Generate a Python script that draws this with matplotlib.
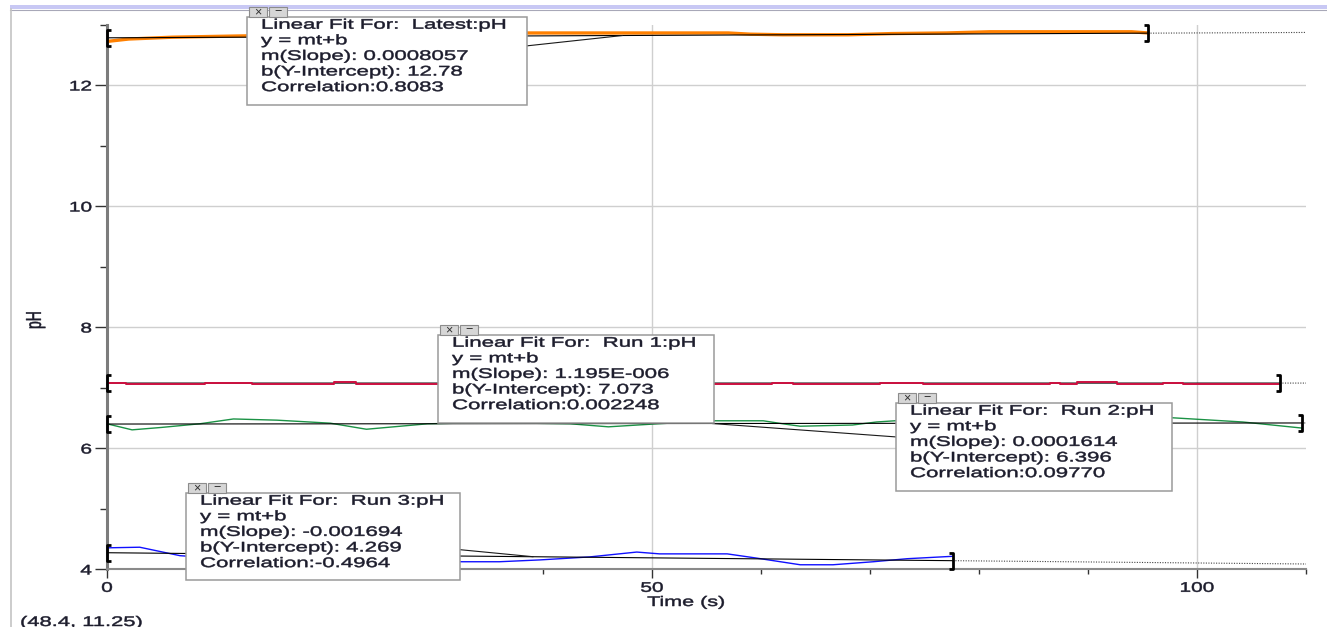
import numpy as np
import matplotlib
matplotlib.use("Agg")
import matplotlib.pyplot as plt
from matplotlib import patheffects
from matplotlib.markers import MarkerStyle
from matplotlib.patches import Rectangle
from matplotlib.path import Path
from matplotlib.transforms import Affine2D, IdentityTransform

W, H = 1327, 627

# pH readings (time in s)
latest_t = [0, 2, 6, 12, 20, 30, 38, 45, 57, 59, 62, 68, 72, 77, 81, 88, 94, 95.5]
latest_ph = [12.72, 12.76, 12.79, 12.81, 12.83, 12.85, 12.86, 12.86, 12.86, 12.84,
             12.83, 12.83, 12.85, 12.86, 12.88, 12.88, 12.88, 12.86]

run1_t = [0, 1.7, 9.0, 13.3, 20.8, 22.8, 61.0, 62.9, 70.9, 74.9, 86.5, 87.4, 89.0,
          92.7, 96.9, 98.7, 107.6]
run1_ph = [7.073, 7.062, 7.073, 7.062, 7.085, 7.062, 7.073, 7.062, 7.073, 7.062,
           7.073, 7.062, 7.085, 7.062, 7.073, 7.062, 7.062]

run2_t = [0, 2.3, 5, 8.5, 11.6, 15.6, 20.5, 23.8, 29.4, 35, 42.5, 46, 50.5, 55.8,
          60.2, 62, 63.6, 68.4, 70.6, 72.3, 80, 90, 97.7, 104.2, 109.6]
run2_ph = [6.40, 6.30, 6.34, 6.40, 6.48, 6.46, 6.41, 6.31, 6.40, 6.42, 6.40, 6.35,
           6.40, 6.45, 6.45, 6.40, 6.36, 6.38, 6.43, 6.45, 6.47, 6.48, 6.50, 6.43, 6.33]

run3_t = [0, 3, 6.7, 10, 15, 20, 26, 32.6, 36, 39.7, 44.3, 48.6, 50.7, 56.9, 59.6,
          63.6, 66.6, 70.3, 73.4, 77.6]
run3_ph = [4.35, 4.36, 4.22, 4.18, 4.14, 4.15, 4.14, 4.12, 4.12, 4.15, 4.20, 4.28,
           4.25, 4.25, 4.18, 4.07, 4.07, 4.12, 4.17, 4.21]

# linear fit results, one entry per run
run_names = ["Latest", "Run 1", "Run 2", "Run 3"]
fit_slopes = [0.0008057, 1.195e-06, 0.0001614, -0.001694]
fit_intercepts = [12.78, 7.073, 6.396, 4.269]
fit_correlations = [0.8083, 0.002248, 0.09770, -0.4964]
fit_starts = [0.0, 0.0, 0.0, 0.0]
fit_ends = [95.5, 107.6, 109.6, 77.6]
# point on each fit line that the info box points at
leader_t = [47.3, 45.0, 55.5, 39.1]

run_colors = ["#ff8000", "#cc1040", "#1b9245", "#1010ff"]
run_widths = [2.4, 1.4, 1.0, 1.0]
# data drawn above (True) or below its fit line
run_on_top = [False, True, False, False]

# info boxes: left, top, width, height in canvas pixels (top-left origin)
box_layout = [(247, 17, 280, 88), (438, 335, 276, 88),
              (896, 403, 276, 88), (186, 493, 274, 87)]

TEXT_COLOR = "#1c1c2c"
PIX = IdentityTransform()


class Stretch(patheffects.AbstractPathEffect):
    """Widen glyph outlines while keeping one edge of the text in place."""

    def __init__(self, sx=1.0, sy=1.0, anchor="left", weight=0.35):
        super().__init__()
        self.sx, self.sy, self.anchor, self.weight = sx, sy, anchor, weight

    def draw_path(self, renderer, gc, tpath, affine, rgbFace=None):
        if len(tpath.vertices) == 0:
            return
        ext = tpath.get_extents()
        ox = {"left": 0.0, "center": (ext.x0 + ext.x1) / 2, "right": ext.x1}[self.anchor]
        oy = (ext.y0 + ext.y1) / 2
        widen = Affine2D().translate(-ox, -oy).scale(self.sx, self.sy).translate(ox, oy)
        gc0 = renderer.new_gc()
        gc0.copy_properties(gc)
        gc0.set_linewidth(self.weight)
        gc0.set_foreground(rgbFace)
        renderer.draw_path(gc0, tpath, widen + affine, rgbFace)
        gc0.restore()


def fmt_value(v):
    """4 significant digits, switching to E-notation for tiny values."""
    if v != 0 and abs(v) < 1e-4:
        mant, exp = f"{v:.3e}".split("e")
        return f"{mant}E{int(exp):+04d}".replace("+", "")
    digits = 3 - int(np.floor(np.log10(abs(v))))
    return f"{v:.{max(digits, 0)}f}"


def canvas(x, y):
    # pixel position measured from the top-left corner -> display coords
    return x, H - y


def draw_fit_box(fig, left, top, width, height, lines):
    x0, y0 = canvas(left, top + height)
    fig.add_artist(Rectangle((x0, y0), width, height, transform=PIX,
                             facecolor="white", edgecolor="#9a9a9a", lw=1.1, zorder=5))
    # close / minimise buttons on the top edge
    for i, sym in enumerate(["\u00d7", "\u2212"]):
        bx, by = canvas(left + 2 + i * 20, top)
        fig.add_artist(Rectangle((bx, by), 18, 10, transform=PIX, facecolor="#d6d6d6",
                                 edgecolor="#8c8c8c", lw=0.8, zorder=5))
        fig.text(bx + 9, by + 5, sym, transform=PIX, ha="center", va="center",
                 fontsize=9, color="#303030", zorder=6)
    for i, line in enumerate(lines):
        tx, ty = canvas(left + 14, top + 11.7 + 15.6 * i)
        fig.text(tx, ty, line, transform=PIX, ha="left", va="baseline", fontsize=10,
                 color=TEXT_COLOR, zorder=6, path_effects=[Stretch(1.6)])


def main():
    plt.rcParams["font.family"] = ["Liberation Sans", "DejaVu Sans"]

    fig = plt.figure(figsize=(W / 100, H / 100), dpi=100)
    fig.patch.set_facecolor("white")

    # window chrome: title strip and left frame
    fig.add_artist(Rectangle(canvas(10, 9), W - 10, 4, transform=PIX,
                             facecolor="#c8c8f4", edgecolor="none", zorder=0))
    fig.add_artist(plt.Line2D([10, W], [H - 9.5, H - 9.5], transform=PIX,
                              color="#a8a8b8", lw=0.8, zorder=0))
    fig.add_artist(plt.Line2D([11, 11], [0, H - 9], transform=PIX,
                              color="#c4c4c4", lw=1.2, zorder=0))

    ax = fig.add_axes([107 / W, (H - 569) / H, 1199 / W, 544.5 / H])
    ax.set_xlim(0, 110)
    ax.set_ylim(4, 13)
    ax.set_facecolor("white")

    for side in ["top", "right"]:
        ax.spines[side].set_visible(False)
    ax.spines["left"].set_color("#7c7c7c")
    ax.spines["left"].set_linewidth(2.2)
    ax.spines["bottom"].set_color("#8a8a8a")
    ax.spines["bottom"].set_linewidth(1.5)

    ax.set_xticks([0, 50, 100])
    ax.set_xticks(np.arange(10, 111, 10), minor=True)
    ax.set_yticks([4, 6, 8, 10, 12])
    ax.set_yticks([5, 7, 9, 11, 13], minor=True)
    ax.tick_params(axis="x", which="major", length=6.5, width=1, color="#333333",
                   pad=2, labelsize=10, labelcolor=TEXT_COLOR)
    ax.tick_params(axis="x", which="minor", length=3.6, width=1, color="#333333")
    ax.tick_params(axis="y", which="major", length=9, width=1, color="#333333",
                   pad=2, labelsize=10, labelcolor=TEXT_COLOR)
    ax.tick_params(axis="y", which="minor", length=5, width=1, color="#333333")
    for lbl in ax.get_xticklabels():
        lbl.set_path_effects([Stretch(1.5, anchor="center")])
    for lbl in ax.get_yticklabels():
        lbl.set_path_effects([Stretch(1.5, anchor="right")])

    ax.grid(True, which="major", color="#cfcfcf", lw=1.0, zorder=0)
    ax.set_axisbelow(True)

    ax.set_xlabel("Time (s)", fontsize=10, color=TEXT_COLOR, va="center",
                  path_effects=[Stretch(1.55, anchor="center")])
    ax.xaxis.set_label_coords(0.483, -0.0606)
    ax.set_ylabel("pH", fontsize=10, color=TEXT_COLOR, va="center",
                  path_effects=[Stretch(sy=1.55, anchor="center")])
    ax.yaxis.set_label_coords(-0.060, 0.457)

    # range brackets for the fits
    open_br = MarkerStyle(Path([(0.45, 1), (0, 1), (0, -1), (0.45, -1)]),
                          joinstyle="miter", capstyle="butt")
    close_br = MarkerStyle(Path([(-0.45, 1), (0, 1), (0, -1), (-0.45, -1)]),
                           joinstyle="miter", capstyle="butt")

    series = [(latest_t, latest_ph, "default"), (run1_t, run1_ph, "steps-post"),
              (run2_t, run2_ph, "default"), (run3_t, run3_ph, "default")]
    xmax = ax.get_xlim()[1]

    for i, (t, ph, style) in enumerate(series):
        ax.plot(t, ph, color=run_colors[i], lw=run_widths[i], drawstyle=style,
                solid_joinstyle="round", zorder=5 if run_on_top[i] else 3)

        m, b = fit_slopes[i], fit_intercepts[i]
        t0, t1 = fit_starts[i], fit_ends[i]
        ax.plot([t0, t1], [m * t0 + b, m * t1 + b], color="black", lw=0.8, zorder=4)
        ax.plot([t1, xmax], [m * t1 + b, m * xmax + b], color="#444444", lw=0.8,
                ls=(0, (1, 1.3)), zorder=4)
        ax.plot([t0], [m * t0 + b], marker=open_br, ms=12, mew=2.0, mec="black",
                mfc="none", zorder=6, clip_on=False)
        ax.plot([t1], [m * t1 + b], marker=close_br, ms=12, mew=2.0, mec="black",
                mfc="none", zorder=6, clip_on=False)

        left, top, width, height = box_layout[i]
        cx, cy = canvas(left + width / 2, top + height / 2)
        tl = leader_t[i]
        ax.annotate("", xy=(tl, m * tl + b), xycoords="data", xytext=(cx, cy),
                    textcoords="figure pixels", annotation_clip=False,
                    arrowprops=dict(arrowstyle="-", color="#1a1a1a", lw=0.8,
                                    shrinkA=0, shrinkB=0), zorder=4)

        lines = [f"Linear Fit For:  {run_names[i]}:pH",
                 "y = mt+b",
                 f"m(Slope): {fmt_value(m)}",
                 f"b(Y-Intercept): {fmt_value(b)}",
                 f"Correlation:{fmt_value(fit_correlations[i])}"]
        draw_fit_box(fig, left, top, width, height, lines)

    # cursor readout in the lower-left corner
    rx, ry = canvas(20, 615)
    fig.text(rx, ry, "(48.4, 11.25)", transform=PIX, ha="left", va="top",
             fontsize=10, color=TEXT_COLOR, path_effects=[Stretch(1.58)])

    fig.savefig("out.png", dpi=100, facecolor="white")
    plt.close(fig)


if __name__ == "__main__":
    main()
